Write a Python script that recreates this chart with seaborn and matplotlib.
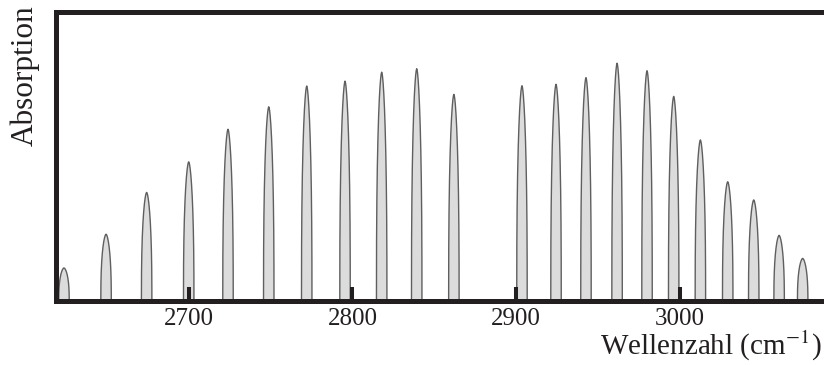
import numpy as np
import pandas as pd
import matplotlib
matplotlib.use("Agg")
import matplotlib.pyplot as plt
import seaborn as sns

# Peak positions (cm^-1) and relative heights
peak_pos = [2623.8, 2649.5, 2674.3, 2700.0, 2724.0, 2748.9, 2772.1, 2795.5,
            2817.9, 2839.3, 2862.0, 2903.6, 2924.4, 2942.7, 2961.7, 2980.0,
            2996.3, 3012.6, 3029.3, 3045.2, 3060.7, 3075.1]
peak_height = [11.4, 23.1, 37.6, 48.2, 59.5, 67.3, 74.5, 76.2,
               79.3, 80.5, 71.6, 74.6, 75.1, 77.4, 82.4, 79.8,
               70.9, 55.8, 41.3, 35.0, 22.7, 14.7]
tick_values = [2700, 2800, 2900, 3000]

sns.set_style("white")
plt.rcParams["font.family"] = ["Liberation Serif", "DejaVu Serif"]
plt.rcParams["mathtext.fontset"] = "stix"

# narrow line outline: near-vertical sides, gradual taper to a point
half_w = 3.2
f = np.linspace(0, 1, 150)
prof = (1 - f ** 2.5) ** 0.6
rows = []
for i, (c, h) in enumerate(zip(peak_pos, peak_height)):
    xs = np.concatenate([c - half_w * prof, (c + half_w * prof)[::-1]])
    ys = np.concatenate([h * f, (h * f)[::-1]])
    for k, (a, b) in enumerate(zip(xs, ys)):
        rows.append((i, k, a, b))
df = pd.DataFrame(rows, columns=["peak", "order", "wavenumber", "absorption"])

fig = plt.figure(figsize=(8.24, 3.65), dpi=100)
ax = fig.add_axes([55.8 / 824, 1 - 300.8 / 365, (840 - 55.8) / 824, 288.3 / 365])
ax.set_axisbelow(False)

for i, g in df.groupby("peak"):
    ax.fill(g["wavenumber"], g["absorption"], color="#dcdcdc", lw=0, zorder=1)
sns.lineplot(data=df, x="wavenumber", y="absorption", units="peak", estimator=None,
             sort=False, color="#5f5f5f", lw=1.0, ax=ax, zorder=2, legend=False)

ax.set_xlim(2618.8, 3097.9)
ax.set_ylim(0, 100)
ax.set_xticks(tick_values)
ax.set_xticklabels([str(t) for t in tick_values], fontsize=18)
ax.set_yticks([])
ax.tick_params(axis="x", bottom=True, direction="in", length=10, width=2.9,
               color="#231f20", pad=5, labelcolor="#231f20")
ax.set_xlabel("")
ax.set_ylabel("")
for s in ax.spines.values():
    s.set_linewidth(3.6)
    s.set_color("#231f20")
    s.set_visible(True)

fig.text(25 / 824, 1 - 5 / 365, "Absorption", rotation=90, ha="center", va="top",
         fontsize=22.5, color="#231f20")
fig.text(822 / 824, 1 - 355 / 365, "Wellenzahl (cm$^{-1}$)", ha="right", va="baseline",
         fontsize=21, color="#231f20")

fig.savefig("out.png", dpi=100)
